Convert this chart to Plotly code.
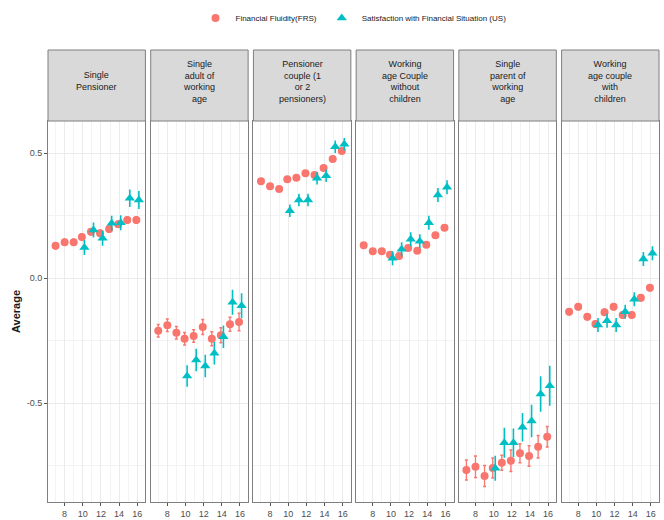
import plotly.graph_objects as go

years = [7, 8, 9, 10, 11, 12, 13, 14, 15, 16]
us_years = [10, 11, 12, 13, 14, 15, 16]

panels = ["Single<br>Pensioner",
          "Single<br>adult of<br>working<br>age",
          "Pensioner<br>couple (1<br>or 2<br>pensioners)",
          "Working<br>age Couple<br>without<br>children",
          "Single<br>parent of<br>working<br>age",
          "Working<br>age couple<br>with<br>children"]

frs_single_pensioner = [0.130, 0.144, 0.144, 0.165, 0.186, 0.180, 0.197, 0.216, 0.233, 0.233]
frs_single_adult = [-0.210, -0.188, -0.218, -0.242, -0.231, -0.195, -0.242, -0.228, -0.184, -0.175]
frs_pensioner_couple = [0.388, 0.368, 0.357, 0.396, 0.402, 0.420, 0.413, 0.441, 0.477, 0.509]
frs_couple_no_children = [0.132, 0.108, 0.108, 0.094, 0.089, 0.121, 0.110, 0.134, 0.172, 0.202]
frs_single_parent = [-0.767, -0.754, -0.791, -0.759, -0.738, -0.730, -0.700, -0.711, -0.674, -0.634]
frs_couple_children = [-0.134, -0.114, -0.154, -0.183, -0.136, -0.114, -0.147, -0.147, -0.078, -0.038]

frs_err_single_pensioner = [0.012] * 10
frs_err_single_adult = [0.025, 0.025, 0.025, 0.025, 0.025, 0.03, 0.028, 0.03, 0.028, 0.035]
frs_err_pensioner_couple = [0.008] * 10
frs_err_couple_no_children = [0.01] * 10
frs_err_single_parent = [0.04, 0.043, 0.042, 0.04, 0.03, 0.043, 0.038, 0.041, 0.045, 0.041]
frs_err_couple_children = [0.012] * 10

us_single_pensioner = [0.123, 0.193, 0.160, 0.220, 0.222, 0.320, 0.313]
us_single_adult = [-0.391, -0.327, -0.351, -0.300, -0.234, -0.096, -0.110]
us_pensioner_couple = [0.270, 0.313, 0.313, 0.400, 0.410, 0.526, 0.536]
us_couple_no_children = [0.080, 0.116, 0.156, 0.148, 0.222, 0.333, 0.364]
us_single_parent = [-0.760, -0.658, -0.658, -0.596, -0.571, -0.463, -0.430]
us_couple_children = [-0.187, -0.170, -0.187, -0.134, -0.084, 0.077, 0.100]

us_err_single_pensioner = [0.03, 0.03, 0.03, 0.03, 0.03, 0.035, 0.036]
us_err_single_adult = [0.043, 0.045, 0.045, 0.045, 0.045, 0.05, 0.05]
us_err_pensioner_couple = [0.025] * 7
us_err_couple_no_children = [0.028] * 7
us_err_single_parent = [0.05, 0.06, 0.057, 0.057, 0.065, 0.071, 0.08]
us_err_couple_children = [0.028] * 7

frs = [frs_single_pensioner, frs_single_adult, frs_pensioner_couple,
       frs_couple_no_children, frs_single_parent, frs_couple_children]
frs_err = [frs_err_single_pensioner, frs_err_single_adult, frs_err_pensioner_couple,
           frs_err_couple_no_children, frs_err_single_parent, frs_err_couple_children]
us = [us_single_pensioner, us_single_adult, us_pensioner_couple,
      us_couple_no_children, us_single_parent, us_couple_children]
us_err = [us_err_single_pensioner, us_err_single_adult, us_err_pensioner_couple,
          us_err_couple_no_children, us_err_single_parent, us_err_couple_children]

RED = "#F8766D"
TEAL = "#00BFC4"
W, H = 664, 520
ML, MR, MT, MB = 47.5, 5, 50, 18
pw = W - ML - MR
ph = H - MT - MB
panel_w = 97.5
gap = 5.3
strip_h = 71
data_top = 1 - strip_h / ph

fig = go.Figure()
shapes = []
annotations = []
for i in range(6):
    x0 = (i * (panel_w + gap)) / pw
    x1 = (i * (panel_w + gap) + panel_w) / pw
    ax = "" if i == 0 else str(i + 1)
    frs_x = [y - 0.1 if y >= 10 else y for y in years]
    us_x = [y + 0.18 for y in us_years]
    fig.add_trace(go.Scatter(
        x=frs_x, y=frs[i], mode="markers", name="Financial Fluidity(FRS)",
        legendgroup="frs", showlegend=(i == 0),
        marker=dict(symbol="circle", size=8, color=RED),
        error_y=dict(type="data", array=frs_err[i], color=RED, thickness=1.3, width=1.5),
        xaxis="x" + ax, yaxis="y" + ax))
    fig.add_trace(go.Scatter(
        x=us_x, y=us[i], mode="markers", name="Satisfaction with Financial Situation (US)",
        legendgroup="us", showlegend=(i == 0),
        marker=dict(symbol="triangle-up", size=9, color=TEAL),
        error_y=dict(type="data", array=us_err[i], color=TEAL, thickness=1.6, width=0),
        xaxis="x" + ax, yaxis="y" + ax))
    fig.update_layout(**{
        "xaxis" + ax: dict(domain=[x0, x1], range=[6.17, 16.9], anchor="y" + ax,
                           automargin=False,
                           tickvals=[8, 10, 12, 14, 16], ticks="outside", ticklen=3,
                           tickcolor="#555555", showgrid=True, gridcolor="#ebebeb",
                           minor=dict(dtick=1, tick0=7, showgrid=True, gridcolor="#f3f3f3"),
                           showline=True, mirror=True, linecolor="#7f7f7f", linewidth=1,
                           zeroline=False, tickfont=dict(size=9, color="#4d4d4d")),
        "yaxis" + ax: dict(domain=[0, data_top], range=[-0.895, 0.629], anchor="x" + ax,
                           automargin=False,
                           tickvals=[-0.5, 0, 0.5], ticktext=["-0.5", "0.0", "0.5"],
                           showticklabels=(i == 0), ticks="outside" if i == 0 else "",
                           ticklen=3, tickcolor="#555555",
                           showgrid=True, gridcolor="#ebebeb",
                           minor=dict(dtick=0.25, tick0=0.25, showgrid=True, gridcolor="#f3f3f3"),
                           showline=True, mirror=True, linecolor="#7f7f7f", linewidth=1,
                           zeroline=False, tickfont=dict(size=9, color="#4d4d4d"),
                           title=dict(text="<b>Average</b>", font=dict(size=11, color="#1a1a1a"),
                                      standoff=3) if i == 0 else None),
    })
    shapes.append(dict(type="rect", xref="paper", yref="paper", x0=x0, x1=x1,
                       y0=data_top, y1=1, fillcolor="#d9d9d9",
                       line=dict(color="#7f7f7f", width=1)))
    annotations.append(dict(text=panels[i], xref="paper", yref="paper",
                            x=(x0 + x1) / 2, y=(data_top + 1) / 2 + 4 / ph,
                            xanchor="center", yanchor="middle", showarrow=False,
                            font=dict(size=9, color="#1a1a1a"), align="center"))

fig.update_layout(
    width=W, height=H,
    margin=dict(l=ML, r=MR, t=MT, b=MB, autoexpand=False),
    paper_bgcolor="white", plot_bgcolor="white",
    font=dict(family="Liberation Sans, Arial, sans-serif"),
    shapes=shapes, annotations=annotations,
    legend=dict(orientation="h", x=0.5, xanchor="center", y=1 + 32 / ph, yanchor="middle",
                font=dict(size=8, color="#1a1a1a"), itemwidth=30,
                tracegroupgap=0),
)

fig.write_html("out.html", config={"displayModeBar": False},
               post_script="document.body.style.margin='0px';document.body.style.padding='0px';")
